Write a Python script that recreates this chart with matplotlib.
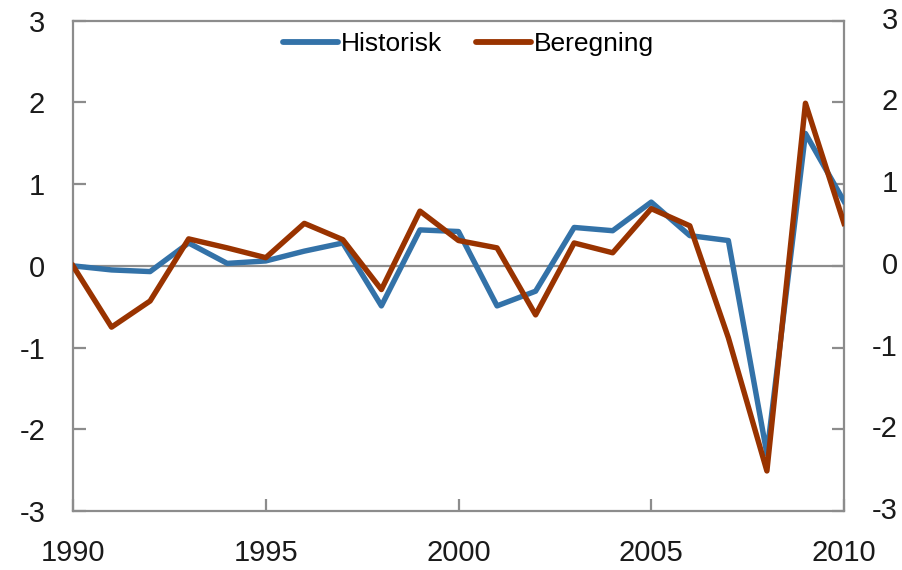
import matplotlib
matplotlib.use('Agg')
import matplotlib.pyplot as plt
import matplotlib.transforms as mtrans
import numpy as np

years = list(range(1990, 2011))
historisk = [0.0, -0.05, -0.07, 0.28, 0.03, 0.06, 0.18, 0.28, -0.49, 0.44, 0.42,
             -0.49, -0.31, 0.47, 0.43, 0.78, 0.37, 0.31, -2.3, 1.62, 0.79]
beregning = [0.0, -0.75, -0.43, 0.33, 0.22, 0.10, 0.52, 0.32, -0.29, 0.67, 0.31,
             0.22, -0.60, 0.28, 0.16, 0.70, 0.49, -0.88, -2.51, 1.99, 0.52]
xticks = [1990, 1995, 2000, 2005, 2010]
yticks = [-3, -2, -1, 0, 1, 2, 3]

plt.rcParams['font.family'] = ['Liberation Sans', 'DejaVu Sans']

grey = '#8c8c8c'
fig = plt.figure(figsize=(9.03, 5.70), dpi=100)
ax = fig.add_axes([73/903, 1 - 511/570, (844 - 73)/903, (511 - 20.7)/570])

ax.axhline(0, color=grey, lw=1.6, zorder=1)
ax.plot(years, historisk, color='#3372a8', lw=3.9, label='Historisk', zorder=3)
ax.plot(years, beregning, color='#993300', lw=3.9, label='Beregning', zorder=4)

ax.set_xlim(1990, 2010)
ax.set_ylim(-3, 3)
ax.set_xticks(xticks)
ax.set_yticks(yticks)
ax.set_yticklabels([str(v) for v in yticks])

for s in ax.spines.values():
    s.set_color(grey)
    s.set_linewidth(1.6)

ax.tick_params(axis='both', direction='in', length=9, width=1.6, color=grey,
               labelsize=21, labelcolor='#1a1a1a')
ax.tick_params(axis='y', right=True, labelright=False, pad=20)
ax.tick_params(axis='x', pad=20)

# right-hand labels, right aligned near the figure edge like the original
trans = mtrans.blended_transform_factory(fig.transFigure, ax.transData)
for v in yticks:
    ax.text(898/903, v, str(v), transform=trans, ha='right', va='center',
            fontsize=21, color='#1a1a1a', clip_on=False)

leg = ax.legend(loc='upper center', bbox_to_anchor=(0.513, 1.025), ncol=2, frameon=False,
                fontsize=19, handlelength=2.1, handletextpad=0.12, columnspacing=1.25)
for line in leg.get_lines():
    line.set_linewidth(4.2)
    line.set_solid_capstyle('round')

fig.savefig('out.png', dpi=100)
